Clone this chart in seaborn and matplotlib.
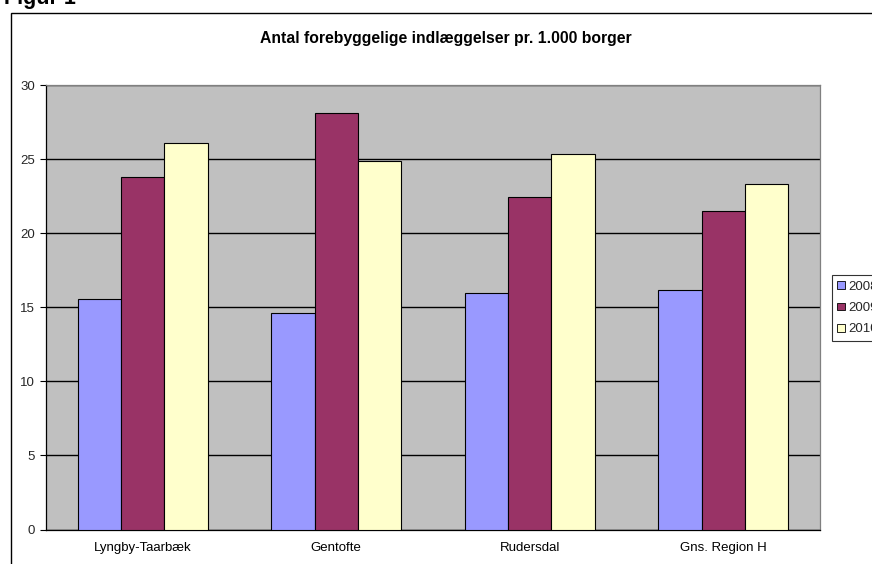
import matplotlib
matplotlib.use("Agg")
import matplotlib.pyplot as plt
import seaborn as sns
import pandas as pd
import numpy as np
from matplotlib.patches import Rectangle

categories = ["Lyngby-Taarbæk", "Gentofte", "Rudersdal", "Gns. Region H"]
years = ["2008", "2009", "2010"]
values_2008 = [15.55, 14.65, 15.95, 16.15]
values_2009 = [23.8, 28.1, 22.45, 21.5]
values_2010 = [26.1, 24.9, 25.35, 23.35]
title = "Antal forebyggelige indlæggelser pr. 1.000 borger"
fig_label = "Figur 1"
colors = ["#9999FF", "#993366", "#FFFFCC"]

rows = []
for yr, vals in zip(years, [values_2008, values_2009, values_2010]):
    for c, v in zip(categories, vals):
        rows.append({"Kommune": c, "År": yr, "Værdi": v})
df = pd.DataFrame(rows)

sns.set_theme(style="white")
plt.rcParams["font.family"] = ["Liberation Sans", "DejaVu Sans"]

W, H = 872, 564
fig = plt.figure(figsize=(W / 100, H / 100), dpi=100)
fig.patch.set_facecolor("white")

def fx(px):
    return px / W

def fy(py):
    return 1 - py / H

ax_l, ax_r, ax_t, ax_b = 46, 820, 85.3, 529.5
ax = fig.add_axes([fx(ax_l), fy(ax_b), fx(ax_r - ax_l), (ax_b - ax_t) / H])
ax.set_facecolor("#C0C0C0")

sns.barplot(data=df, x="Kommune", y="Værdi", hue="År", palette=colors,
            width=0.67, gap=0, edgecolor="black", linewidth=0.8,
            saturation=1, ax=ax, zorder=3, legend=True)

ax.set_ylim(0, 30)
ax.set_xlim(-0.5, 3.5)
ax.set_yticks(np.arange(0, 31, 5))
ax.yaxis.grid(True, color="black", linewidth=1.0, zorder=1)
ax.set_axisbelow(True)
ax.set_xlabel("")
ax.set_ylabel("")

ax.set_xticks(range(len(categories)))
ax.set_xticklabels(categories, fontsize=9.5)
ax.set_xticks(np.arange(-0.5, 3.6, 1), minor=True)
ax.tick_params(axis="x", which="major", length=0, pad=9, colors="black")
ax.tick_params(axis="x", which="minor", length=4, width=0.8, color="black", direction="out")
ax.tick_params(axis="y", which="major", length=4, width=0.8, color="black",
               direction="out", labelsize=9.5, pad=4, left=True)

for s in ["left", "bottom"]:
    ax.spines[s].set_color("black")
    ax.spines[s].set_linewidth(0.9)
for s in ["top", "right"]:
    ax.spines[s].set_color("#808080")
    ax.spines[s].set_linewidth(0.9)

handles, labels = ax.get_legend_handles_labels()
ax.get_legend().remove()
leg = fig.legend(handles, labels, loc="upper left",
                 bbox_to_anchor=(fx(831.5), fy(275)), borderaxespad=0,
                 fontsize=9.5, frameon=True, fancybox=False,
                 handlelength=0.55, handleheight=0.55, handletextpad=0.3,
                 labelspacing=0.7, borderpad=0.45)
leg.get_frame().set_edgecolor("black")
leg.get_frame().set_linewidth(0.8)
for p in leg.get_patches():
    p.set_edgecolor("black")
    p.set_linewidth(0.6)

fig.text(fx(446), fy(39), title, ha="center", va="center",
         fontsize=11.3, fontweight="bold", color="black")

fig.text(fx(4), fy(4), fig_label, ha="left", va="baseline",
         fontsize=15.5, fontweight="bold", color="black")

frame = Rectangle((fx(10.5), fy(H + 20)), 1.2, (H + 20 - 12.7) / H,
                  transform=fig.transFigure, fill=False,
                  edgecolor="black", linewidth=1.0, clip_on=False)
fig.patches.append(frame)

fig.savefig("out.png", dpi=100)
